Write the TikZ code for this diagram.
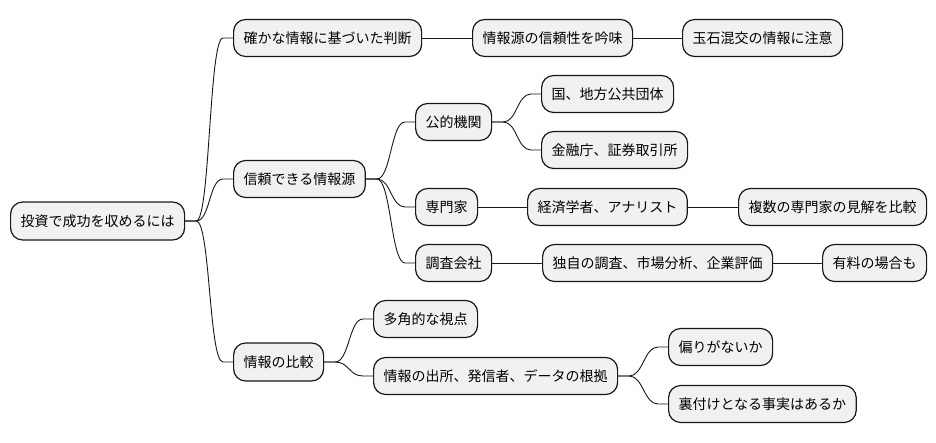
\documentclass[tikz,border=0pt]{standalone}
\usepackage{fontspec}
\setmainfont{Noto Sans CJK JP}
\usetikzlibrary{calc}
\definecolor{boxfill}{HTML}{F1F1F1}
\definecolor{boxline}{HTML}{181818}
\tikzset{
  mm/.style={draw=boxline, fill=boxfill, line width=1.2pt, rounded corners=12pt,
    inner xsep=10pt, inner ysep=0pt, minimum height=37pt, anchor=west,
    font=\fontsize{14}{16}\selectfont},
  conn/.style={draw=boxline, line width=0.9pt}
}
\newcommand{\mmlink}[2]{%
  \draw[conn] (#1.east) -- ++(11,0) .. controls +(14,0) and +(-14,0) .. ($(#2.west)+(-10,0)$) -- (#2.west);}
\begin{document}
\begin{tikzpicture}[x=1pt,y=-1pt]
\useasboundingbox (0,0) rectangle (936,443);
\node[mm, minimum height=38pt] (root) at (10,221) {投資で成功を収めるには};
\node[mm] (a) at (233,38) {確かな情報に基づいた判断};
\node[mm] (b) at (233,179) {信頼できる情報源};
\node[mm, minimum height=38pt] (c) at (233,362) {情報の比較};
\node[mm] (a1) at (472,38) {情報源の信頼性を吟味};
\node[mm] (a2) at (682,38) {玉石混交の情報に注意};
\node[mm] (b1) at (415,122) {公的機関};
\node[mm] (b2) at (415,207) {専門家};
\node[mm] (b3) at (415,263) {調査会社};
\node[mm] (b11) at (541,94) {国、地方公共団体};
\node[mm] (b12) at (541,150) {金融庁、証券取引所};
\node[mm] (b21) at (527,207) {経済学者、アナリスト};
\node[mm] (b22) at (738,207) {複数の専門家の見解を比較};
\node[mm] (b31) at (542,263) {独自の調査、市場分析、企業評価};
\node[mm] (b32) at (822,263) {有料の場合も};
\node[mm] (c1) at (373,319) {多角的な視点};
\node[mm] (c2) at (373,376) {情報の出所、発信者、データの根拠};
\node[mm] (c21) at (668,347) {偏りがないか};
\node[mm] (c22) at (668,404) {裏付けとなる事実はあるか};
\mmlink{root}{a}
\mmlink{root}{b}
\mmlink{root}{c}
\draw[conn] (a.east) -- (a1.west);
\draw[conn] (a1.east) -- (a2.west);
\mmlink{b}{b1}
\mmlink{b}{b2}
\mmlink{b}{b3}
\mmlink{b1}{b11}
\mmlink{b1}{b12}
\draw[conn] (b2.east) -- (b21.west);
\draw[conn] (b21.east) -- (b22.west);
\draw[conn] (b3.east) -- (b31.west);
\draw[conn] (b31.east) -- (b32.west);
\mmlink{c}{c1}
\mmlink{c}{c2}
\mmlink{c2}{c21}
\mmlink{c2}{c22}
\end{tikzpicture}
\end{document}
